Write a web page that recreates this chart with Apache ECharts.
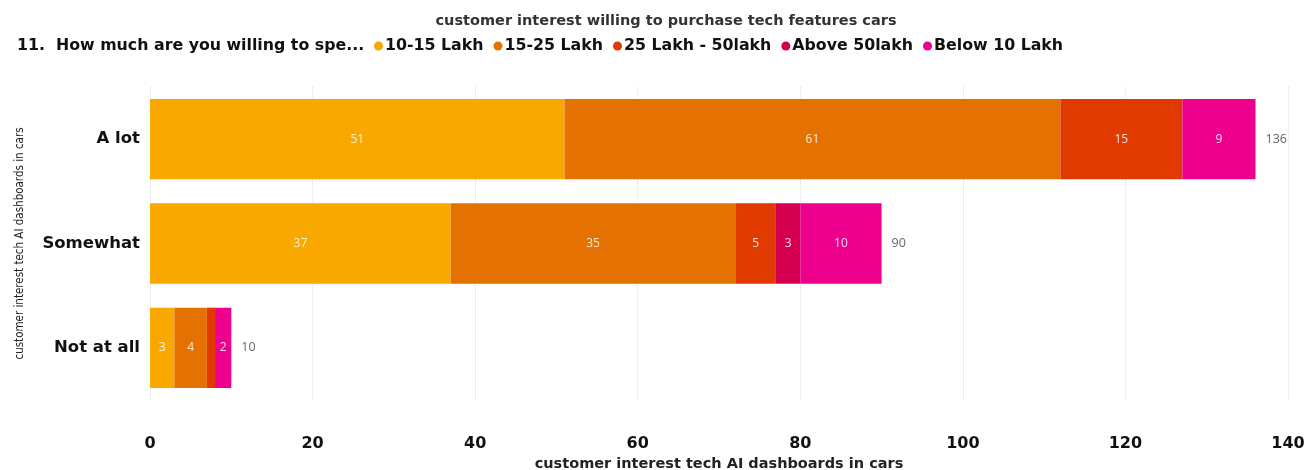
<!DOCTYPE html>
<html>
<head>
<meta charset="utf-8">
<script src="https://cdn.jsdelivr.net/npm/echarts@6/dist/echarts.min.js"></script>
<style>
  html, body { margin: 0; padding: 0; background: #fff; }
  #chart { width: 1313px; height: 470px; }
</style>
</head>
<body>
<div id="chart"></div>
<script>
const categories = ["A lot", "Somewhat", "Not at all"];
const seriesNames = ["10-15 Lakh", "15-25 Lakh", "25 Lakh - 50lakh", "Above 50lakh", "Below 10 Lakh"];
const lakh10to15 = [51, 37, 3];
const lakh15to25 = [61, 35, 4];
const lakh25to50 = [15, 5, 1];
const above50 = [0, 3, 0];
const below10 = [9, 10, 2];
const totals = [136, 90, 10];
const xTicks = [0, 20, 40, 60, 80, 100, 120, 140];

const colors = ["#F9A800", "#E57200", "#E03A00", "#D4004F", "#EC008C"];
const values = [lakh10to15, lakh15to25, lakh25to50, above50, below10];
const narrow = "'DejaVu Sans Condensed', Roboto, sans-serif";

let chart = echarts.init(document.getElementById("chart"));

let series = values.map((vals, i) => {
  return {
    type: "bar",
    name: seriesNames[i],
    stack: "total",
    barWidth: "77%",
    itemStyle: { color: colors[i] },
    label: {
      show: true,
      position: "inside",
      color: "rgba(255,255,255,0.85)",
      fontSize: 12,
      fontFamily: "Open Sans",
      formatter: (p) => (p.value >= 2 ? p.value : ""),
    },
    data: vals,
  };
});

// zero-width segment at the end just to carry the total label
series.push({
  type: "bar",
  name: "total",
  stack: "total",
  itemStyle: { color: "transparent" },
  label: {
    show: true,
    position: "right",
    distance: 10,
    color: "#666",
    fontSize: 12.5,
    fontFamily: "Open Sans",
    formatter: (p) => totals[p.dataIndex],
  },
  data: totals.map(() => 0),
});

chart.setOption({
  animation: false,
  title: [
    {
      text: "customer interest willing to purchase tech features cars",
      left: 661,
      top: 9,
      textAlign: "center",
      textStyle: { fontSize: 14.5, fontWeight: "bold", color: "#333", fontFamily: "DejaVu Sans" },
    },
    {
      text: "11.  How much are you willing to spe...",
      left: 12,
      top: 33,
      textStyle: { fontSize: 15.8, fontWeight: "bold", color: "#111", fontFamily: "DejaVu Sans" },
    },
  ],
  legend: {
    data: seriesNames,
    left: 369,
    top: 33,
    icon: "circle",
    itemWidth: 9,
    itemHeight: 9,
    itemGap: 10,
    textStyle: { fontSize: 15.8, fontWeight: "bold", color: "#111", fontFamily: "DejaVu Sans", padding: [0, 0, 0, -3] },
  },
  grid: {
    left: 150,
    right: 25,
    top: 87,
    bottom: 70,
    outerBoundsMode: "none",
  },
  xAxis: {
    type: "value",
    min: 0,
    max: 140,
    interval: 20,
    name: "customer interest tech AI dashboards in cars",
    nameLocation: "middle",
    nameGap: 55,
    nameTextStyle: { fontSize: 14.5, fontWeight: "bold", color: "#222", fontFamily: "DejaVu Sans" },
    axisLine: { show: false },
    axisTick: { show: false },
    axisLabel: {
      margin: 36,
      fontSize: 16,
      fontWeight: "bold",
      color: "#111",
      fontFamily: "DejaVu Sans",
      formatter: (v) => (xTicks.includes(v) ? v : ""),
    },
    splitLine: { show: true, lineStyle: { type: "dotted", color: "#ddd" } },
  },
  yAxis: {
    type: "category",
    inverse: true,
    data: categories,
    name: "customer interest tech AI dashboards in cars",
    nameLocation: "middle",
    nameGap: 124,
    nameTextStyle: { fontSize: 11.5, color: "#222", fontFamily: narrow },
    axisLine: { show: false },
    axisTick: { show: false },
    axisLabel: {
      margin: 10,
      fontSize: 16.5,
      fontWeight: "bold",
      color: "#111",
      fontFamily: "DejaVu Sans",
    },
  },
  series: series,
});
</script>
</body>
</html>
